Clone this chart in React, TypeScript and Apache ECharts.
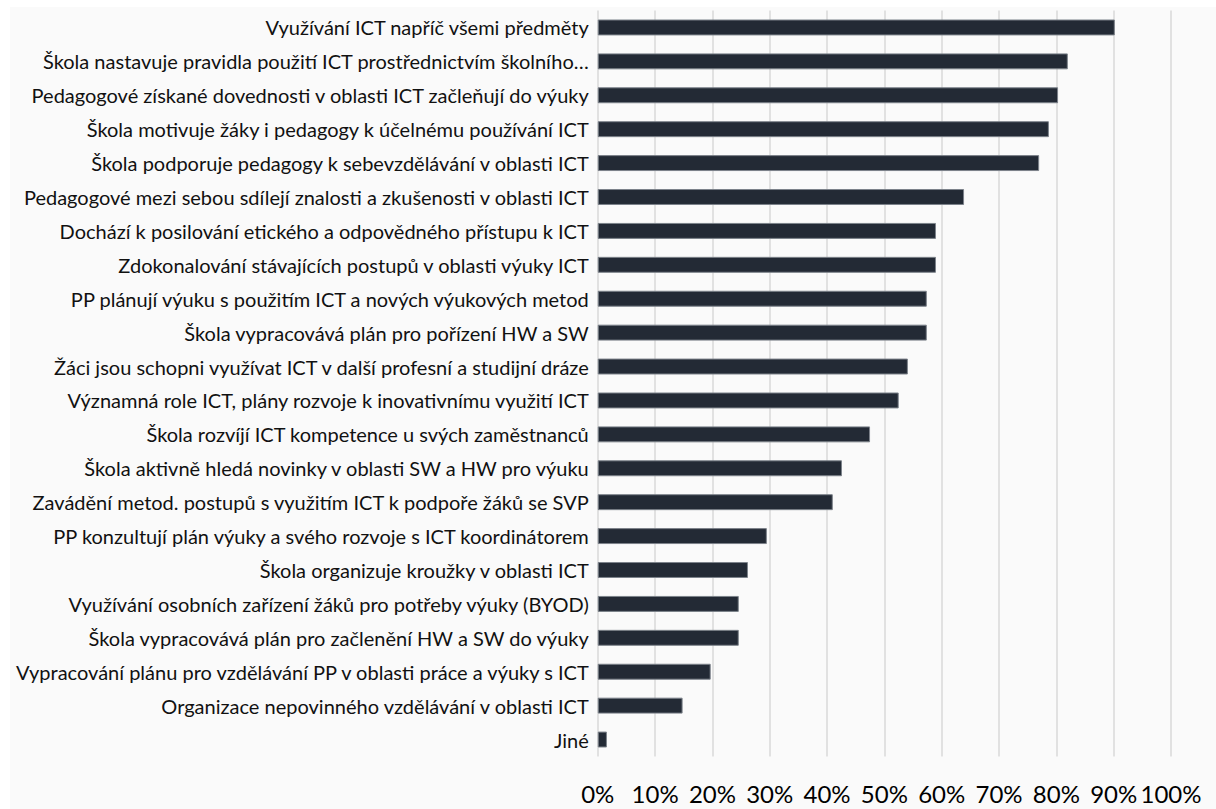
import React, { useEffect, useRef } from "react";
import * as echarts from "echarts";

const categories: string[] = [
  "Využívání ICT napříč všemi předměty",
  "Škola nastavuje pravidla použití ICT prostřednictvím školního…",
  "Pedagogové získané dovednosti v oblasti ICT začleňují do výuky",
  "Škola motivuje žáky i pedagogy k účelnému používání ICT",
  "Škola podporuje pedagogy k sebevzdělávání v oblasti ICT",
  "Pedagogové mezi sebou sdílejí znalosti a zkušenosti v oblasti ICT",
  "Dochází k posilování etického a odpovědného přístupu k ICT",
  "Zdokonalování stávajících postupů v oblasti výuky ICT",
  "PP plánují výuku s použitím ICT a nových výukových metod",
  "Škola vypracovává plán pro pořízení HW a SW",
  "Žáci jsou schopni využívat ICT v další profesní a studijní dráze",
  "Významná role ICT, plány rozvoje k inovativnímu využití ICT",
  "Škola rozvíjí ICT kompetence u svých zaměstnanců",
  "Škola aktivně hledá novinky v oblasti SW a HW pro výuku",
  "Zavádění metod. postupů s využitím ICT k podpoře žáků se SVP",
  "PP konzultují plán výuky a svého rozvoje s ICT koordinátorem",
  "Škola organizuje kroužky v oblasti ICT",
  "Využívání osobních zařízení žáků pro potřeby výuky (BYOD)",
  "Škola vypracovává plán pro začlenění HW a SW do výuky",
  "Vypracování plánu pro vzdělávání PP v oblasti práce a výuky s ICT",
  "Organizace nepovinného vzdělávání v oblasti ICT",
  "Jiné",
];

const values: number[] = [
  90.2, 82.0, 80.3, 78.7, 77.0, 63.9, 59.0, 59.0, 57.4, 57.4, 54.1, 52.5,
  47.5, 42.6, 41.0, 29.5, 26.2, 24.6, 24.6, 19.7, 14.8, 1.6,
];

const xTicks: number[] = [0, 10, 20, 30, 40, 50, 60, 70, 80, 90, 100];

export default function App() {
  const ref = useRef<HTMLDivElement>(null);

  useEffect(() => {
    document.body.style.margin = "0";
    document.body.style.background = "#ffffff";
    const chart = echarts.init(ref.current!, undefined, { renderer: "svg" });
    chart.setOption({
      animation: false,
      backgroundColor: "#fafafa",
      grid: { left: 587, right: 45, top: 3.5, bottom: 52.5, containLabel: false },
      xAxis: {
        type: "value",
        min: xTicks[0],
        max: xTicks[xTicks.length - 1],
        interval: xTicks[1] - xTicks[0],
        axisLine: { show: false },
        axisTick: { show: false },
        splitLine: { show: true, lineStyle: { color: "#d9d9d9", width: 1.5 } },
        axisLabel: {
          formatter: "{value}%",
          fontFamily: "Lato",
          fontSize: 24,
          color: "#000000",
          margin: 25,
        },
      },
      yAxis: {
        type: "category",
        inverse: true,
        data: categories,
        axisLine: { show: false },
        axisTick: { show: false },
        splitLine: { show: false },
        axisLabel: {
          fontFamily: "Lato",
          fontSize: 20,
          color: "#111111",
          margin: 9,
          interval: 0,
        },
      },
      series: [
        {
          type: "bar",
          data: values,
          barWidth: "47%",
          itemStyle: { color: "#232a35", borderColor: "#7c828a", borderWidth: 1 },
        },
      ],
    });
    return () => chart.dispose();
  }, []);

  return (
    <div style={{ position: "fixed", left: 0, top: 0, width: 1216, height: 809, background: "#ffffff", overflow: "hidden" }}>
      <div ref={ref} style={{ position: "absolute", left: 10, top: 7, width: 1206, height: 802 }} />
    </div>
  );
}
